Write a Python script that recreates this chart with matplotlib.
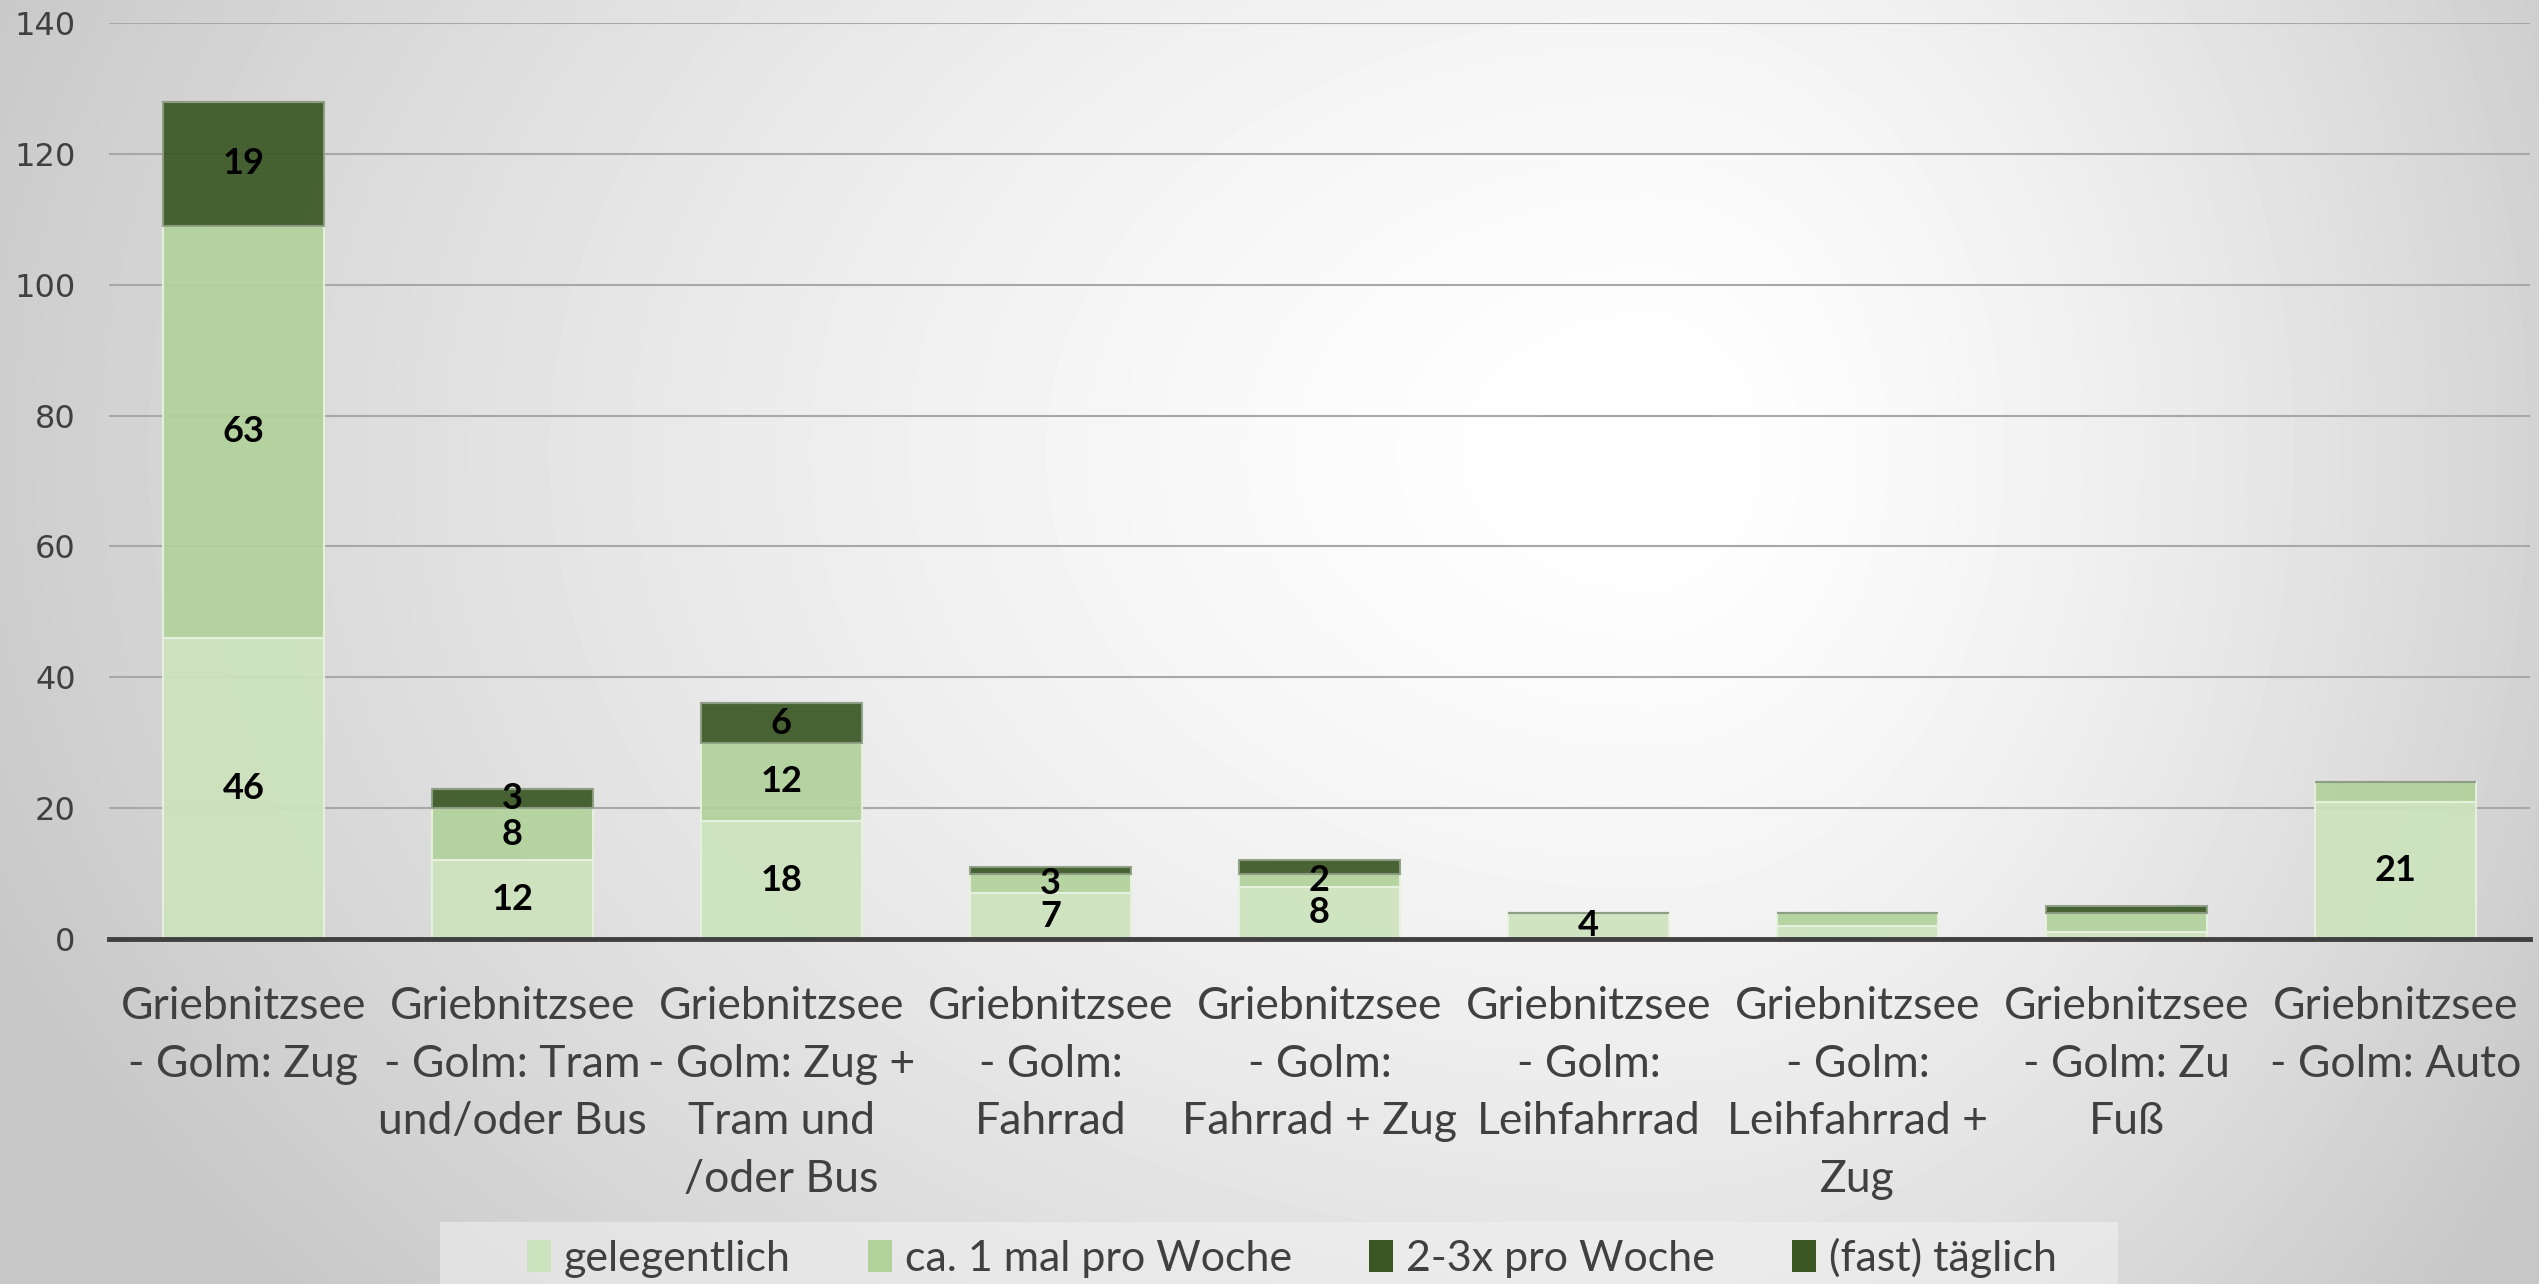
import numpy as np
import matplotlib
matplotlib.use("Agg")
import matplotlib.pyplot as plt
from matplotlib.patches import Patch, Rectangle

# ---------------- data ----------------
categories = [
    "Griebnitzsee\n- Golm: Zug",
    "Griebnitzsee\n- Golm: Tram\nund/oder Bus",
    "Griebnitzsee\n- Golm: Zug +\nTram und\n/oder Bus",
    "Griebnitzsee\n- Golm:\nFahrrad",
    "Griebnitzsee\n- Golm:\nFahrrad + Zug",
    "Griebnitzsee\n- Golm:\nLeihfahrrad",
    "Griebnitzsee\n- Golm:\nLeihfahrrad +\nZug",
    "Griebnitzsee\n- Golm: Zu\nFuß",
    "Griebnitzsee\n- Golm: Auto",
]
series_names = ["gelegentlich", "ca. 1 mal pro Woche", "2-3x pro Woche", "(fast) täglich"]
gelegentlich = [46, 12, 18, 7, 8, 4, 2, 1, 21]
ca_1_mal = [63, 8, 12, 3, 2, 0, 2, 3, 3]
zwei_drei_x = [19, 3, 6, 0, 0, 0, 0, 0, 0]
fast_taeglich = [0, 0, 0, 1, 2, 0, 0, 1, 0]
# which values carry a data label in the reference
show_gelegentlich = [1, 1, 1, 1, 1, 1, 0, 0, 1]
show_ca_1_mal = [1, 1, 1, 1, 1, 0, 0, 0, 0]
show_zwei_drei_x = [1, 1, 1, 0, 0, 0, 0, 0, 0]
show_fast_taeglich = [0, 0, 0, 0, 0, 0, 0, 0, 0]
y_ticks = [0, 20, 40, 60, 80, 100, 120, 140]

colors = ["#cde3bd", "#b1d29b", "#3a5723", "#3a5723"]

W, H = 2539, 1284
fig = plt.figure(figsize=(W / 100, H / 100), dpi=100)

# ---------------- radial background ----------------
bg = fig.add_axes([0, 0, 1, 1], zorder=-10)
yy, xx = np.mgrid[0:H:4, 0:W:4].astype(float)
cx, cy = 1650.0, 450.0
Rl, Rr, Ry = 1800.0, 1050.0, 1300.0
dx = np.where(xx < cx, (xx - cx) / Rl, (xx - cx) / Rr)
dy = (yy - cy) / Ry
t = np.clip(np.sqrt(dx ** 2 + dy ** 2), 0, 1)
v = 1 - 0.22 * t ** 1.5
bg.imshow(v, cmap="gray", vmin=0, vmax=1, extent=[0, 1, 0, 1], aspect="auto",
          interpolation="bilinear")
bg.set_axis_off()

# legend background box
fig.patches.append(Rectangle((440 / W, 0), (2118 - 440) / W, 62 / H,
                             transform=fig.transFigure, facecolor="#f2f2f2",
                             alpha=0.55, edgecolor="none", zorder=-5))

# ---------------- main axes ----------------
ax = fig.add_axes([109 / W, 1 - 939 / H, (2530 - 109) / W, (939 - 23) / H])
ax.patch.set_alpha(0)
x = np.arange(len(categories))
series = [gelegentlich, ca_1_mal, zwei_drei_x, fast_taeglich]
shows = [show_gelegentlich, show_ca_1_mal, show_zwei_drei_x, show_fast_taeglich]
bottom = np.zeros(len(categories))
for name, vals, col, show in zip(series_names, series, colors, shows):
    vals = np.array(vals, dtype=float)
    ec = "#e8f2e0" if col != "#3a5723" else "#8e9e84"
    ax.bar(x, vals, width=0.6, bottom=bottom, color=col, edgecolor=ec,
           linewidth=1.5, alpha=0.92, zorder=3, label=name)
    for xi, b, val, s in zip(x, bottom, vals, show):
        if s and val > 0:
            ax.text(xi, b + val / 2, f"{int(val)}", ha="center", va="center",
                    fontsize=26, fontweight="bold", family="Lato", color="black",
                    zorder=5)
    bottom += vals

ax.set_xlim(-0.5, len(categories) - 0.5)
ax.set_ylim(0, 140)
ax.set_yticks(y_ticks)
ax.set_yticklabels([str(t_) for t_ in y_ticks], fontsize=23, color="#404040",
                   family="DejaVu Sans")
ax.tick_params(axis="y", length=0, pad=24)
ax.set_xticks(x)
ax.set_xticklabels(categories, fontsize=32, family="Lato", color="#404040",
                   linespacing=1.5)
ax.tick_params(axis="x", length=0, pad=34)
ax.grid(axis="y", color="#a8a8a8", linewidth=1.5, zorder=0)
ax.set_axisbelow(True)
for s in ["top", "right", "left"]:
    ax.spines[s].set_visible(False)
ax.spines["bottom"].set_color("#404040")
ax.spines["bottom"].set_linewidth(3.5)
ax.spines["bottom"].set_zorder(6)

# ---------------- legend ----------------
handles = [Patch(facecolor=c, edgecolor="none") for c in colors]
fig.legend(handles, series_names, ncol=4, loc="center",
           bbox_to_anchor=(1292 / W, 1 - 1258 / H), frameon=False,
           prop={"family": "Lato", "size": 31}, labelcolor="#404040",
           handlelength=0.55, handleheight=0.75, handletextpad=0.3,
           columnspacing=1.8)

fig.savefig("out.png", dpi=100)
